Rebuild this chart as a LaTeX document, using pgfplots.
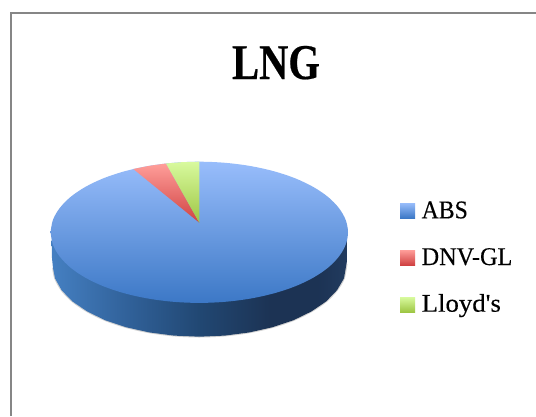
\documentclass[border=0pt]{standalone}
\usepackage{fontspec}
\usepackage{pgfplots}
\pgfplotsset{compat=1.18}
\setmainfont{Liberation Serif}
\newfontfamily\absfont[FakeStretch=0.93,FakeBold=0.25]{Liberation Serif}
\newfontfamily\dnvfont[FakeStretch=0.95,FakeBold=0.25]{Liberation Serif}
\newfontfamily\llofont[FakeStretch=1.05,FakeBold=0.25]{Liberation Serif}
\newfontfamily\titfont[FakeStretch=0.81,FakeBold=0.4]{Liberation Serif}
\definecolor{frame}{RGB}{134,134,134}
\definecolor{blueT}{RGB}{152,189,251}
\definecolor{blueB}{RGB}{60,120,198}
\definecolor{redT}{RGB}{255,158,154}
\definecolor{redB}{RGB}{208,66,66}
\definecolor{greenT}{RGB}{216,250,158}
\definecolor{greenB}{RGB}{158,198,68}
\pgfdeclarehorizontalshading{wall}{100bp}{
  rgb(0bp)=(0.27,0.50,0.76);
  rgb(25bp)=(0.27,0.50,0.76);
  rgb(38bp)=(0.19,0.38,0.60);
  rgb(50bp)=(0.13,0.28,0.45);
  rgb(62bp)=(0.11,0.20,0.33);
  rgb(70bp)=(0.11,0.20,0.33);
  rgb(75bp)=(0.13,0.23,0.37);
  rgb(100bp)=(0.13,0.23,0.37)}
\begin{document}
\begin{tikzpicture}
\begin{axis}[
  scale only axis, width=536pt, height=416pt,
  xmin=0, xmax=536, ymin=0, ymax=416, y dir=reverse,
  hide axis, clip=true]
\addplot[fill=white, draw=none] coordinates {(0,0)(536,0)(536,416)(0,416)} \closedcycle;
\addplot[frame, line width=1.6pt, no marks] coordinates {(11,416)(11,13)(536,13)};
% soft edge of the wall
\addplot[gray, opacity=0.35, line width=1.6pt, no marks, smooth] coordinates {
(53,268)(55,278.3)(61.6,290.2)(72.4,301.4)(87.1,311.4)(105.1,320.2)(126,327.2)(149.2,332.4)(173.9,335.6)(199.3,336.7)(224.7,335.6)(249.4,332.4)(272.6,327.2)(293.5,320.2)(311.5,311.4)(326.2,301.4)(337,290.2)(344,278.3)(346.6,264)};
% side wall
\addplot[shading=wall, draw=none, no marks] coordinates {
(51.6,240)(52,258)(53,268)(55,278.3)(61.6,290.2)(72.4,301.4)(87.1,311.4)(105.1,320.2)(126,327.2)(149.2,332.4)(173.9,335.6)(199.3,336.7)(224.7,335.6)(249.4,332.4)(272.6,327.2)(293.5,320.2)(311.5,311.4)(326.2,301.4)(337,290.2)(344,278.3)(346.8,262)(347,240)} -- cycle;
% top: ABS
\addplot[shade, top color=blueT, bottom color=blueB, draw=none, no marks, smooth, tension=0.55] coordinates {
(50.6,232.3)(52.9,220)(59.6,208.2)(70.5,197)(85.4,186.9)(103.7,178.2)(124.9,171.2)(148.4,166)(173.5,162.8)(199.3,161.7)(225.1,162.8)(250.2,166)(273.7,171.2)(294.9,178.2)(313.2,186.9)(328.1,197)(339,208.2)(345.7,220)(348,232.3)(345.7,244.6)(339,256.4)(328.1,267.6)(313.2,277.7)(294.9,286.4)(273.7,293.4)(250.2,298.6)(225.1,301.8)(199.3,302.9)(173.5,301.8)(148.4,298.6)(124.9,293.4)(103.7,286.4)(85.4,277.7)(70.5,267.6)(59.6,256.4)(52.9,244.6)(50.6,232.3)} -- cycle;
% DNV-GL
\addplot[shade, top color=redT, bottom color=redB, draw=none, no marks] coordinates {
(199.3,222.7)(133.3,169)(150,165.7)(166,163.5)} -- cycle;
% Lloyd's
\addplot[shade, top color=greenT, bottom color=greenB, draw=none, no marks] coordinates {
(199.3,222.7)(166,163.5)(183,162.1)(199.3,161.7)} -- cycle;
% legend keys
\addplot[shade, top color=blueT, bottom color=blueB, draw=none, no marks] coordinates {(400,203)(415,203)(415,218)(400,218)} -- cycle;
\addplot[shade, top color=redT, bottom color=redB, draw=none, no marks] coordinates {(400,250)(415,250)(415,265)(400,265)} -- cycle;
\addplot[shade, top color=greenT, bottom color=greenB, draw=none, no marks] coordinates {(400,297)(415,297)(415,312)(400,312)} -- cycle;
\node[anchor=base, inner sep=0pt] at (axis cs:276,79) {\titfont\bfseries\fontsize{50}{60}\selectfont LNG};
\node[anchor=base west, inner sep=0pt] at (axis cs:421.5,218.3) {\absfont\fontsize{25.5}{30}\selectfont ABS};
\node[anchor=base west, inner sep=0pt] at (axis cs:421.5,265) {\dnvfont\fontsize{25.5}{30}\selectfont DNV-GL};
\node[anchor=base west, inner sep=0pt] at (axis cs:421.5,311.7) {\llofont\fontsize{25.5}{30}\selectfont Lloyd's};
\end{axis}
\end{tikzpicture}
\end{document}
